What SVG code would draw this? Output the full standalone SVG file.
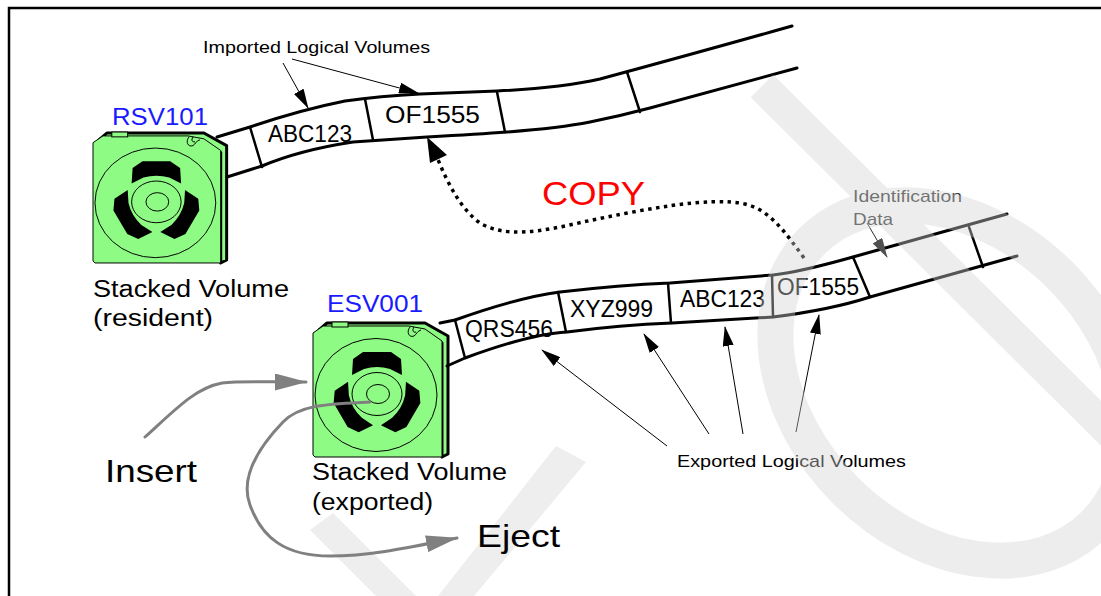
<svg xmlns="http://www.w3.org/2000/svg" xmlns:xlink="http://www.w3.org/1999/xlink" width="1101" height="596" viewBox="0 0 1101 596">
  <style>
    .t{font-family:"Liberation Sans",Arial,sans-serif;fill:#000}
    .vol{font-size:23px}
    .lbl{font-size:23px}
    .small{font-size:17px}
    .big{font-size:32px}
    .blue{fill:#1a1aff}
    .tape{fill:none;stroke:#000;stroke-width:3;stroke-linejoin:round;stroke-linecap:round}
    .sep{stroke:#000;stroke-width:2.5;stroke-linecap:round}
    .thin{fill:none;stroke:#000;stroke-width:1}
    .move{fill:none;stroke:#808080;stroke-width:3;stroke-linecap:round}
    .green{fill:#8efc84}
    .wm{fill:none;stroke:#d4d4d4}
  </style>
  <defs>
    <marker id="ah" viewBox="0 0 20 11" refX="19" refY="5.5" markerWidth="20" markerHeight="11" markerUnits="userSpaceOnUse" orient="auto">
      <path d="M0,0 L20,5.5 L0,11 Z" fill="#000"/>
    </marker>
    <marker id="ahg" viewBox="0 0 20 11" refX="19" refY="5.5" markerWidth="20" markerHeight="11" markerUnits="userSpaceOnUse" orient="auto">
      <path d="M0,0 L20,5.5 L0,11 Z" fill="#505050"/>
    </marker>
    <marker id="big" viewBox="0 0 32 17" refX="31" refY="8.5" markerWidth="32" markerHeight="17" markerUnits="userSpaceOnUse" orient="auto">
      <path d="M0,0 L32,8.5 L0,17 Z" fill="#808080"/>
    </marker>
    <path id="spoke" d="M40,36 L50,29 L78,29 L88,36 L89,52 L77,46 Q64,42 51,46 L39,52 Z" fill="#000"/>
    <!-- tape cartridge, origin at top-left of the front face -->
    <g id="cart">
      <path class="green" d="M6,7 L14,0 L112,0 L135,13 L135,131 L129,134 L129,20 Z" stroke="#000" stroke-width="3" stroke-linejoin="round"/>
      <path class="green" d="M0,10 L10,3 L96,3 L112,6 L129,18 L129,134 L2,134 L0,132 Z" stroke="#000" stroke-width="1"/>
      <rect class="green" x="19" y="-1" width="16" height="5" stroke="#000" stroke-width="1"/>
      <path d="M97,4 C93,9 96,15 101,13 C104,11 104,8 108,7 M101,4 C99,7 100,10 103,9" fill="none" stroke="#000" stroke-width="1"/>
      <ellipse cx="63" cy="72" rx="61" ry="56.5" class="thin"/>
      <ellipse cx="64" cy="71" rx="25" ry="21.5" class="thin"/>
      <ellipse cx="65" cy="71" rx="11.5" ry="9.5" class="thin"/>
      <use xlink:href="#spoke"/>
      <use xlink:href="#spoke" transform="rotate(120 64 71)"/>
      <use xlink:href="#spoke" transform="rotate(-120 64 71)"/>
    </g>
  </defs>

  <!-- faint background strokes behind the drawing -->
  <g id="backdrop" fill="#eeeeee">
    <polygon points="310,530 333,513 416,596 376,596"/>
    <polygon points="438,596 474,596 586,462 556,446"/>
  </g>

  <!-- frame -->
  <path d="M9,596 V8 H1101" fill="none" stroke="#000" stroke-width="2.5"/>

  <!-- resident stacked volume -->
  <g id="rsv101">
    <use xlink:href="#cart" transform="translate(93,133) scale(0.99,0.97)"/>
    <text class="t lbl blue" x="112" y="125" textLength="96" lengthAdjust="spacingAndGlyphs">RSV101</text>
    <text class="t lbl" x="93" y="297" textLength="196" lengthAdjust="spacingAndGlyphs">Stacked Volume</text>
    <text class="t lbl" x="93" y="326" textLength="120" lengthAdjust="spacingAndGlyphs">(resident)</text>
  </g>

  <!-- exported stacked volume -->
  <g id="esv001">
    <use xlink:href="#cart" transform="translate(313,323)"/>
    <text class="t lbl blue" x="327" y="312" textLength="96" lengthAdjust="spacingAndGlyphs">ESV001</text>
    <text class="t lbl" x="312" y="480" textLength="195" lengthAdjust="spacingAndGlyphs">Stacked Volume</text>
    <text class="t lbl" x="312" y="510" textLength="121" lengthAdjust="spacingAndGlyphs">(exported)</text>
  </g>

  <!-- tape on the resident volume -->
  <g id="tape-resident">
    <path class="tape" d="M217,137 L250,127 Q300,110 345,101 Q380,96 420,94 L497,91 Q560,88 600,79 Q700,52 792,26"/>
    <path class="tape" d="M227,177 L262,166 Q300,150 353,142 L427,137 Q480,134 507,132 Q560,128 590,122 Q620,116 650,108 L797,68"/>
    <line class="sep" x1="250" y1="127" x2="262" y2="167"/>
    <line class="sep" x1="365" y1="99" x2="373" y2="140"/>
    <line class="sep" x1="497" y1="92" x2="505" y2="132"/>
    <line class="sep" x1="627" y1="72" x2="640" y2="112"/>
    <text class="t vol" x="268" y="142" textLength="84" lengthAdjust="spacingAndGlyphs">ABC123</text>
    <text class="t vol" x="385" y="123" textLength="95" lengthAdjust="spacingAndGlyphs">OF1555</text>
  </g>

  <!-- tape on the exported volume -->
  <g id="tape-exported">
    <path class="tape" d="M440,323 L455,320 Q520,297 560,292 Q620,285 670,283 L773,275 Q800,272 853,257 L1007,214"/>
    <path class="tape" d="M447,366 L465,358 Q530,334 567,332 Q620,325 672,323 L773,317 Q830,310 870,297 L1017,256"/>
    <line class="sep" x1="455" y1="320" x2="465" y2="358"/>
    <line class="sep" x1="558" y1="292" x2="566" y2="332"/>
    <line class="sep" x1="668" y1="283" x2="671" y2="323"/>
    <line class="sep" x1="772" y1="275" x2="773" y2="317"/>
    <line class="sep" x1="853" y1="257" x2="870" y2="297"/>
    <line class="sep" x1="969" y1="227" x2="983" y2="267"/>
    <text class="t vol" x="465" y="337" textLength="88" lengthAdjust="spacingAndGlyphs">QRS456</text>
    <text class="t vol" x="570" y="317" textLength="83" lengthAdjust="spacingAndGlyphs">XYZ999</text>
    <text class="t vol" x="680" y="307" textLength="85" lengthAdjust="spacingAndGlyphs">ABC123</text>
    <text class="t vol" x="777" y="295" textLength="82" lengthAdjust="spacingAndGlyphs">OF1555</text>
  </g>

  <!-- annotations -->
  <g id="imported-note">
    <text class="t small" x="203" y="53" textLength="227" lengthAdjust="spacingAndGlyphs">Imported Logical Volumes</text>
  </g>
  <g id="copy-note">
    <text class="t" x="542" y="205" font-size="34" style="fill:#ff0000" textLength="103" lengthAdjust="spacingAndGlyphs">COPY</text>
  </g>
  <g id="ident-note">
    <text class="t small" x="853" y="202" style="fill:#333" textLength="109" lengthAdjust="spacingAndGlyphs">Identification</text>
    <text class="t small" x="853" y="225" style="fill:#333" textLength="40" lengthAdjust="spacingAndGlyphs">Data</text>
  </g>
  <g id="exported-note">
    <text class="t small" x="677" y="467" textLength="229" lengthAdjust="spacingAndGlyphs">Exported Logical Volumes</text>
  </g>
  <g id="insert-label">
    <text class="t big" x="105" y="482" textLength="92" lengthAdjust="spacingAndGlyphs">Insert</text>
  </g>
  <g id="eject-label">
    <text class="t big" x="477" y="547" textLength="83" lengthAdjust="spacingAndGlyphs">Eject</text>
  </g>

  <!-- connectors -->
  <g id="connectors">
    <line class="thin" x1="283" y1="63" x2="308" y2="108" marker-end="url(#ah)"/>
    <line class="thin" x1="292" y1="59" x2="418" y2="93" marker-end="url(#ah)"/>
    <line x1="867" y1="223" x2="887" y2="257" stroke="#303030" stroke-width="1" marker-end="url(#ahg)"/>
    <line class="thin" x1="667" y1="446" x2="542" y2="350" marker-end="url(#ah)"/>
    <line class="thin" x1="709" y1="434" x2="644" y2="334" marker-end="url(#ah)"/>
    <line class="thin" x1="743" y1="434" x2="725" y2="327" marker-end="url(#ah)"/>
    <line class="thin" x1="796" y1="432" x2="819" y2="315" marker-end="url(#ah)"/>
    <path d="M804,258 C785,232 770,210 745,204 C710,196 640,210 583,222 C540,232 505,238 480,223 C462,210 448,185 437,157" fill="none" stroke="#000" stroke-width="3.5" stroke-dasharray="3.5 4.5"/>
    <polygon points="427,137 447,155 430,163" fill="#000"/>
    <path class="move" d="M145,437 C175,410 195,388 222,383 C240,381 260,382 306,382" marker-end="url(#big)"/>
    <path class="move" d="M370,402 C330,404 300,404 283,422 C258,448 240,478 250,505 C262,538 285,556 330,556 C375,556 420,545 457,538" marker-end="url(#big)"/>
  </g>

  <!-- translucent lettering strokes laid over the drawing -->
  <g id="watermark" opacity="0.4">
    <path class="wm" d="M762,86 L1140,462" stroke-width="32"/>
    <ellipse class="wm" cx="953" cy="383" rx="200" ry="152" transform="rotate(45 953 383)" stroke-width="36"/>
  </g>
</svg>
